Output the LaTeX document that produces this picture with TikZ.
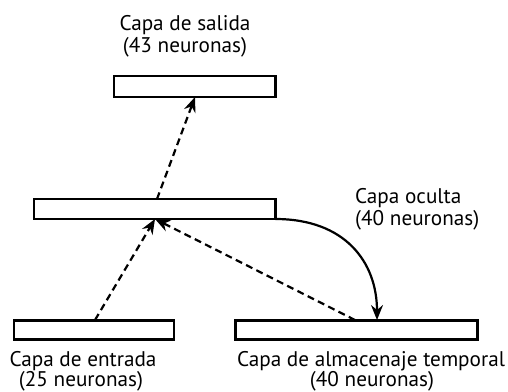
\documentclass[tikz,border=0pt]{standalone}
\usepackage{fontspec}
\setmainfont{PT Sans}
\usetikzlibrary{arrows.meta}
\tikzset{mytip/.tip={Stealth[length=15pt,width=12pt,inset=5pt]}}
\begin{document}
\begin{tikzpicture}[x=1pt,y=-1pt,
  layer/.style={draw,line width=2.6pt,inner sep=0pt},
  lbl/.style={font=\fontsize{21.2}{22}\selectfont,inner sep=0pt,anchor=base},
  dasharr/.style={line width=2.2pt,dash pattern=on 7pt off 4.5pt,-mytip},
  solidarr/.style={line width=2.2pt,-mytip}]
\useasboundingbox (0,0) rectangle (508,391);
\node[layer,minimum width=161.3pt,minimum height=21pt] (out) at (194.7,86.5) {};
\node[layer,minimum width=241.3pt,minimum height=20pt] (hid) at (154.7,209) {};
\node[layer,minimum width=160pt,minimum height=19.2pt] (inp) at (94,330) {};
\node[layer,minimum width=242pt,minimum height=19.2pt] (mem) at (356.5,330) {};
\node[lbl] (tout1) at (185,30) {Capa de salida};
\node[lbl] (tout2) at (185,52) {(43 neuronas)};
\node[lbl,anchor=base west] (thid1) at (355,203) {Capa oculta};
\node[lbl,anchor=base west] (thid2) at (355,225) {(40 neuronas)};
\node[lbl] (tinp1) at (83,366) {Capa de entrada};
\node[lbl] (tinp2) at (81,386) {(25 neuronas)};
\node[lbl] (tmem1) at (371,366) {Capa de almacenaje temporal};
\node[lbl] (tmem2) at (372,386) {(40 neuronas)};
\coordinate (a1) at (95,320);
\coordinate (a2) at (155,219);
\coordinate (b1) at (157,199);
\coordinate (b2) at (195,97);
\coordinate (c1) at (355,320);
\coordinate (c2) at (155,219);
\coordinate (d1) at (275.3,219);
\coordinate (d2) at (377,320);
\draw[dasharr] (a1) -- (a2);
\draw[dasharr] (b1) -- (b2);
\draw[dasharr] (c1) -- (c2);
\draw[solidarr] (d1) .. controls (345,219) and (377,262) .. (d2);
\end{tikzpicture}
\end{document}
